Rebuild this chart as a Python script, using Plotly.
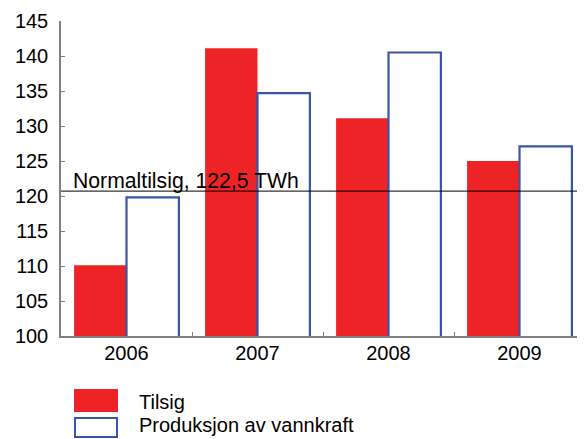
import plotly.graph_objects as go

years = ["2006", "2007", "2008", "2009"]
tilsig = [110.1, 141.1, 131.1, 125.0]
produksjon = [119.8, 134.7, 140.5, 127.1]
normal_level = 120.7
normal_label = "Normaltilsig, 122,5 TWh"
series_names = ["Tilsig", "Produksjon av vannkraft"]

RED = "#EE2326"
BLUE = "#3A55A5"
FONT = "Liberation Sans, Arial, sans-serif"

# page body has an 8px margin; compensate so the plot lands at the reference pixels
OFF = 8
L, R, T, B = 61 - OFF, 0, 21 - OFF, 103
W, H = 585 - OFF, 439 - OFF
PW = 524
PH = 315


def px(xpix):
    return (xpix - 61) / PW


def py(ypix):
    return (336 - ypix) / PH


fig = go.Figure()
fig.add_trace(go.Bar(x=years, y=tilsig, name=series_names[0],
                     marker=dict(color=RED, line=dict(width=0)), showlegend=False))
fig.add_trace(go.Bar(x=years, y=produksjon, name=series_names[1],
                     marker=dict(color="white", line=dict(color=BLUE, width=2.2)), showlegend=False))

fig.add_shape(type="line", xref="paper", x0=0, x1=1, yref="y", y0=normal_level, y1=normal_level,
              line=dict(color="black", width=1), layer="above")
fig.add_annotation(xref="paper", x=px(71), yref="y", y=normal_level, text=normal_label,
                   showarrow=False, xanchor="left", yanchor="bottom", yshift=-4,
                   font=dict(size=21.2, color="black", family=FONT))

# custom legend
fig.add_shape(type="rect", xref="paper", yref="paper", x0=px(74), x1=px(118),
              y0=py(412), y1=py(389), fillcolor=RED, line=dict(width=0))
fig.add_shape(type="rect", xref="paper", yref="paper", x0=px(75), x1=px(117),
              y0=py(437), y1=py(418), fillcolor="white", line=dict(color=BLUE, width=2))
fig.add_annotation(xref="paper", yref="paper", x=px(137), y=py(402), text=series_names[0],
                   showarrow=False, xanchor="left", yanchor="middle",
                   font=dict(size=20, family=FONT, color="black"))
fig.add_annotation(xref="paper", yref="paper", x=px(137), y=py(425), text=series_names[1],
                   showarrow=False, xanchor="left", yanchor="middle",
                   font=dict(size=20, family=FONT, color="black"))

fig.update_layout(
    width=W, height=H,
    margin=dict(l=L, r=R, t=T, b=B),
    paper_bgcolor="white", plot_bgcolor="white",
    font=dict(family=FONT, size=20, color="black"),
    barmode="group", bargap=0.2, bargroupgap=0,
)
fig.update_yaxes(range=[100, 145], dtick=5, tick0=100, showgrid=False, zeroline=False,
                 showline=True, linecolor="#808080", linewidth=1.5,
                 ticks="inside", ticklen=4, tickcolor="#808080",
                 ticklabelstandoff=7,
                 tickfont=dict(size=20, family=FONT, color="black"))
fig.update_xaxes(type="category", showgrid=False, zeroline=False,
                 showline=True, linecolor="#808080", linewidth=1.5,
                 ticks="inside", ticklen=4, tickcolor="#808080", tickson="boundaries",
                 ticklabelstandoff=-2,
                 tickfont=dict(size=20, family=FONT, color="black"))

fig.write_html("out.html")
